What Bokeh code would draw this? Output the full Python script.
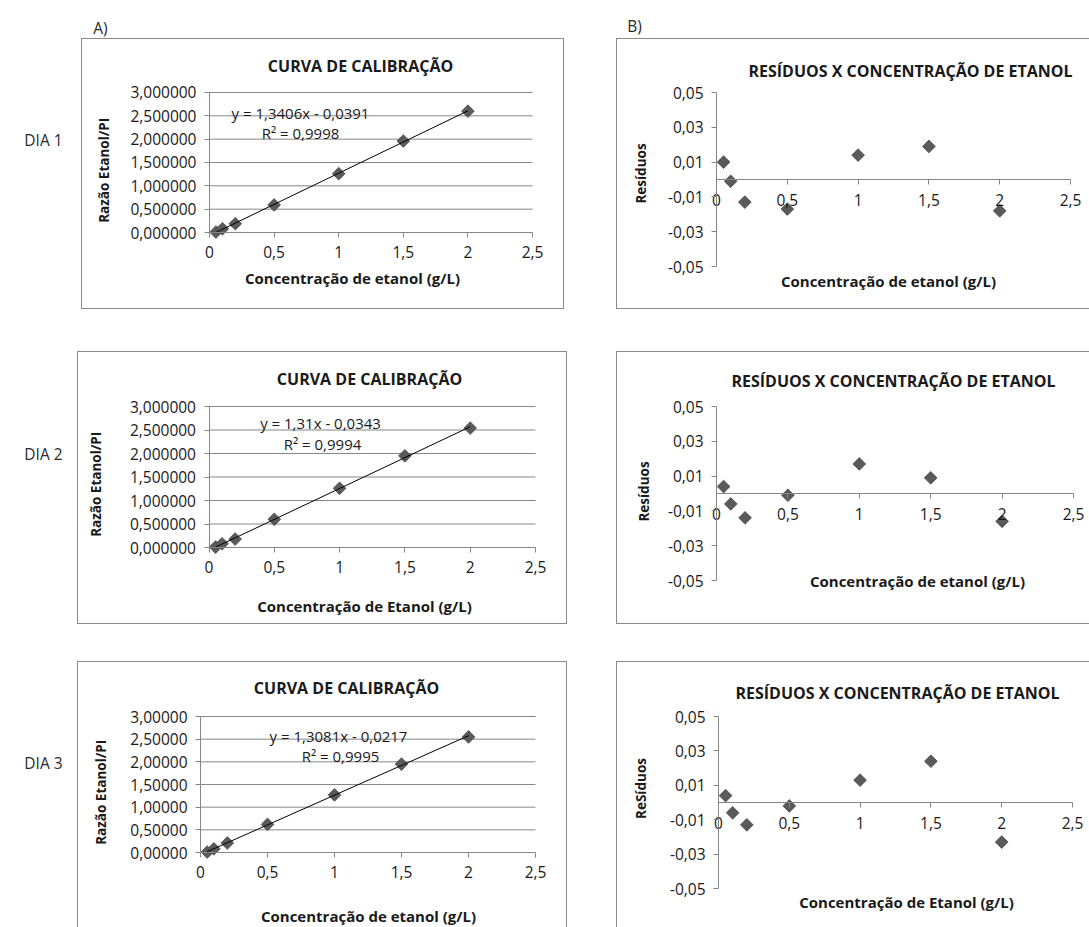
import numpy as np
from bokeh.plotting import figure
from bokeh.layouts import column, row
from bokeh.models import Range1d, FixedTicker, Spacer
from bokeh.core.properties import value
from bokeh.embed import file_html
from bokeh.resources import INLINE

# ---------------- data ----------------
concentracao = [0.05, 0.1, 0.2, 0.5, 1.0, 1.5, 2.0]

razao_dia1 = [0.01, 0.08, 0.19, 0.59, 1.26, 1.96, 2.60]
razao_dia2 = [0.01, 0.08, 0.18, 0.60, 1.26, 1.95, 2.54]
razao_dia3 = [0.01, 0.08, 0.21, 0.62, 1.27, 1.95, 2.55]

residuos_dia1 = [0.010, -0.001, -0.013, -0.017, 0.014, 0.019, -0.018]
residuos_dia2 = [0.004, -0.006, -0.014, -0.001, 0.017, 0.009, -0.016]
residuos_dia3 = [0.004, -0.006, -0.013, -0.002, 0.013, 0.024, -0.023]

equacoes = ["y = 1,3406x - 0,0391", "y = 1,31x - 0,0343", "y = 1,3081x - 0,0217"]
r2_textos = ["R² = 0,9998", "R² = 0,9994", "R² = 0,9995"]

x_ticks = [0, 0.5, 1, 1.5, 2, 2.5]
x_tick_labels = ["0", "0,5", "1", "1,5", "2", "2,5"]
ratio_ticks = [0, 0.5, 1, 1.5, 2, 2.5, 3]
ratio_labels_6 = ["0,000000", "0,500000", "1,000000", "1,500000", "2,000000", "2,500000", "3,000000"]
ratio_labels_5 = ["0,00000", "0,50000", "1,00000", "1,50000", "2,00000", "2,50000", "3,00000"]
resid_ticks = [-0.05, -0.03, -0.01, 0.01, 0.03, 0.05]
resid_labels = ["-0,05", "-0,03", "-0,01", "0,01", "0,03", "0,05"]

# ---------------- styling ----------------
FONT = "Open Sans"
TEXT = "#1a1a1a"
GRAY = "#868686"
FRAME = "#8a8a8a"
MARK = "#5a5a5a"
TICK_SIZE = "15.5px"


def shadow(sides):
    parts = []
    if "l" in sides:
        parts.append(f"inset 1px 0 0 {FRAME}")
    if "t" in sides:
        parts.append(f"inset 0 1px 0 {FRAME}")
    if "r" in sides:
        parts.append(f"inset -1px 0 0 {FRAME}")
    if "b" in sides:
        parts.append(f"inset 0 -1px 0 {FRAME}")
    return {"box-shadow": ", ".join(parts)}


class Panel:
    def __init__(self, box, w, h, x0, xppu, y0, yppu, sides):
        # box: page position of chart box; x0/y0: page pixel of data origin
        self.bx, self.by = box
        self.x0 = x0 - self.bx
        self.y0 = y0 - self.by
        self.xppu, self.yppu = xppu, yppu
        xr = Range1d(-self.x0 / xppu, (w - self.x0) / xppu)
        yr = Range1d((self.y0 - h) / yppu, self.y0 / yppu)
        p = figure(width=w, height=h, x_range=xr, y_range=yr,
                   output_backend="svg", toolbar_location=None,
                   min_border=0, min_border_left=0, min_border_right=0,
                   min_border_top=0, min_border_bottom=0)
        p.background_fill_color = None
        p.border_fill_color = None
        p.outline_line_color = None
        p.xgrid.visible = False
        p.ygrid.visible = False
        p.styles = shadow(sides)
        self.p = p

    def d(self, px, py):
        return ((px - self.bx - self.x0) / self.xppu, (self.y0 - (py - self.by)) / self.yppu)

    def text(self, px, py, txt, size, bold=False, angle=0.0):
        x, y = self.d(px, py)
        self.p.text(x=[x], y=[y], text=[txt], angle=angle,
                    text_font=value(FONT), text_font_size=value(size),
                    text_font_style="bold" if bold else "normal",
                    text_color=TEXT, text_align="center", text_baseline="middle")


def style_axis(ax, ticks, labels, bounds, standoff):
    ax.ticker = FixedTicker(ticks=ticks)
    ax.major_label_overrides = dict(zip(ticks, labels))
    ax.bounds = bounds
    ax.fixed_location = 0
    ax.axis_line_color = GRAY
    ax.axis_line_width = 1
    ax.major_tick_line_color = GRAY
    ax.major_tick_out = 5
    ax.major_tick_in = 0
    ax.minor_tick_line_color = None
    ax.major_label_text_font = FONT
    ax.major_label_text_font_size = TICK_SIZE
    ax.major_label_text_color = TEXT
    ax.major_label_standoff = standoff


def calib_panel(box, w, h, x0, xppu, y0, yppu, sides, razao, ylabels,
                title_pos, eq_pos, r2_pos, xt_pos, yl_pos, eq, r2, xtitle):
    pn = Panel(box, w, h, x0, xppu, y0, yppu, sides)
    p = pn.p
    # horizontal gridlines
    gl = ratio_ticks[1:]
    p.segment(x0=[x_ticks[0]] * len(gl), x1=[x_ticks[-1]] * len(gl), y0=gl, y1=gl,
              line_color=GRAY, line_width=1)
    style_axis(p.xaxis[0], x_ticks, x_tick_labels, (x_ticks[0], x_ticks[-1]), 8)
    style_axis(p.yaxis[0], ratio_ticks, ylabels, (ratio_ticks[0], ratio_ticks[-1]), 8)
    p.scatter(concentracao, razao, marker="square", angle=np.pi / 4, size=9,
              fill_color=MARK, line_color="#4a4a4a", line_width=0.8)
    a, b = np.polyfit(concentracao, razao, 1)
    xs = [min(concentracao), max(concentracao)]
    p.line(xs, [a * v + b for v in xs], line_color="#000000", line_width=1)
    pn.text(*title_pos, "CURVA DE CALIBRAÇÃO", "16px", bold=True)
    pn.text(*eq_pos, eq, "15px")
    pn.text(*r2_pos, r2, "15px")
    pn.text(*xt_pos, xtitle, "15px", bold=True)
    pn.text(*yl_pos, "Razão  Etanol/PI", "13.5px", bold=True, angle=np.pi / 2)
    return p


def resid_panel(box, w, h, x0, xppu, y0, yppu, sides, resid,
                title_pos, xt_pos, yl_pos, xtitle, ylabel):
    pn = Panel(box, w, h, x0, xppu, y0, yppu, sides)
    p = pn.p
    style_axis(p.xaxis[0], x_ticks, x_tick_labels, (x_ticks[0], x_ticks[-1]), 9)
    style_axis(p.yaxis[0], resid_ticks, resid_labels, (resid_ticks[0], resid_ticks[-1]), 8)
    p.scatter(concentracao, resid, marker="square", angle=np.pi / 4, size=9,
              fill_color=MARK, line_color="#4a4a4a", line_width=0.8)
    pn.text(*title_pos, "RESÍDUOS X CONCENTRAÇÃO DE ETANOL", "16px", bold=True)
    pn.text(*xt_pos, xtitle, "15px", bold=True)
    pn.text(*yl_pos, ylabel, "13.5px", bold=True, angle=np.pi / 2)
    return p


def label_fig(origin, w, h, items):
    ox, oy = origin
    p = figure(width=w, height=h, x_range=Range1d(0, w), y_range=Range1d(h, 0),
               output_backend="svg", toolbar_location=None,
               min_border=0, min_border_left=0, min_border_right=0,
               min_border_top=0, min_border_bottom=0)
    p.xaxis.visible = False
    p.yaxis.visible = False
    p.xgrid.visible = False
    p.ygrid.visible = False
    p.outline_line_color = None
    p.background_fill_color = None
    p.border_fill_color = None
    for (px, py, txt) in items:
        p.text(x=[px - ox], y=[py - oy], text=[txt],
               text_font=value(FONT), text_font_size=value("15.5px"),
               text_color="#2a2a2a", text_align="center", text_baseline="middle")
    return p


# ---------------- panels (page coordinates) ----------------
A1 = calib_panel((81, 38), 483, 271, 209, 129.2, 232, 46.67, "ltrb", razao_dia1, ratio_labels_6,
                 (360, 65), (300, 112), (300, 132), (352, 277), (103, 168),
                 equacoes[0], r2_textos[0], "Concentração de etanol (g/L)")
A2 = calib_panel((77, 351), 490, 273, 208.5, 130.6, 547, 47.0, "ltrb", razao_dia2, ratio_labels_6,
                 (369, 378), (320, 422), (322, 443), (364, 605), (95, 482),
                 equacoes[1], r2_textos[1], "Concentração de Etanol (g/L)")
A3 = calib_panel((77, 661), 490, 266, 200, 134.0, 852, 45.33, "ltr", razao_dia3, ratio_labels_5,
                 (346, 687), (338, 735), (340, 755), (368, 915), (100, 790),
                 equacoes[2], r2_textos[2], "Concentração de etanol (g/L)")

B1 = resid_panel((616, 38), 473, 271, 716, 141.6, 179, 1740, "ltb", residuos_dia1,
                 (910, 70), (888, 280), (640, 173), "Concentração de etanol (g/L)", "Resíduos")
B2 = resid_panel((616, 351), 473, 273, 716, 142.8, 493, 1740, "ltb", residuos_dia2,
                 (893, 380), (917, 580), (643, 491), "Concentração de etanol (g/L)", "Resíduos")
B3 = resid_panel((616, 661), 473, 266, 718, 141.6, 802, 1720, "lt", residuos_dia3,
                 (897, 692), (906, 901), (640, 788), "Concentração de Etanol (g/L)", "ReSíduos")

top = label_fig((0, 0), 1089, 38, [(100, 27, "A)"), (634, 25, "B)")])
d1 = label_fig((0, 38), 81, 271, [(43, 139, "DIA 1")])
d2 = label_fig((0, 351), 77, 273, [(43, 453, "DIA 2")])
d3 = label_fig((0, 661), 77, 266, [(43, 762, "DIA 3")])

layout = column(
    top,
    row(d1, A1, Spacer(width=52, height=271), B1),
    Spacer(width=1089, height=42),
    row(d2, A2, Spacer(width=49, height=273), B2),
    Spacer(width=1089, height=37),
    row(d3, A3, Spacer(width=49, height=266), B3),
)

with open("out.html", "w") as f:
    f.write(file_html(layout, INLINE, title="Curvas de calibração"))
